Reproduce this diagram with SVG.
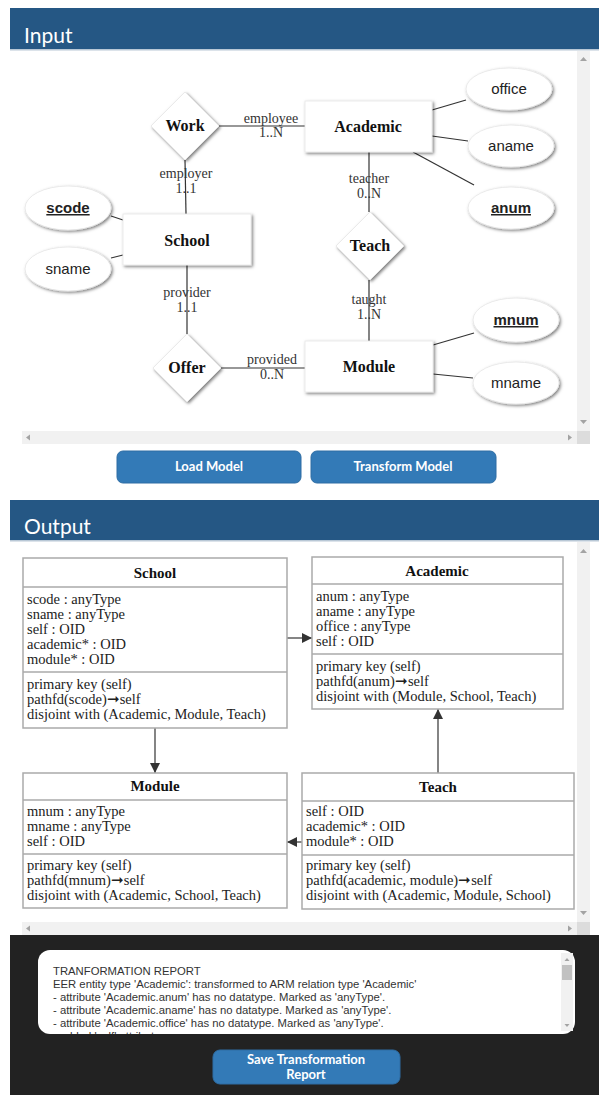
<svg xmlns="http://www.w3.org/2000/svg" width="599" height="1095" viewBox="0 0 599 1095">
<defs>
<filter id="sh" x="-30%" y="-30%" width="160%" height="160%">
<feDropShadow dx="1.5" dy="1.5" stdDeviation="1.8" flood-color="#000" flood-opacity="0.5"/>
</filter>
<marker id="ah" viewBox="0 0 10 10" refX="10" refY="5" markerWidth="10" markerHeight="10" markerUnits="userSpaceOnUse" orient="auto">
<path d="M0,0 L10,5 L0,10 z" fill="#333"/>
</marker>
<clipPath id="taclip"><rect x="38" y="950" width="537" height="84" rx="12"/></clipPath>
</defs>
<style>
.hdr{fill:#255784}
.htxt{font-family:"Lato",sans-serif;font-size:21px;fill:#fff}
.ent{fill:#fff;stroke:#e6e6e6;stroke-width:0.8;filter:url(#sh)}
.el{fill:#fff;stroke:#e6e6e6;stroke-width:0.8;filter:url(#sh)}
.elab{font-family:"Liberation Serif",serif;font-size:16px;font-weight:bold;fill:#111;text-anchor:middle}
.alab{font-family:"Liberation Sans",sans-serif;font-size:15px;fill:#222;text-anchor:middle}
.key{font-weight:bold;text-decoration:underline}
.er{stroke:#333;stroke-width:1.2;fill:none}
.rl{font-family:"Liberation Serif",serif;font-size:14px;fill:#333;text-anchor:middle}
.sb{fill:#f1f1f1}
.sbc{fill:#dcdcdc}
.arr{fill:#a3a3a3}
.btn{fill:#337ab7;stroke:#2e6da4;stroke-width:1}
.btxt{font-family:"Lato",sans-serif;font-size:13px;font-weight:bold;fill:#fff;text-anchor:middle}
.box{fill:#fff;stroke:#aaa;stroke-width:1.5}
.sep{stroke:#aaa;stroke-width:1.5}
.ut{font-family:"Liberation Serif",serif;font-size:14.5px;fill:#222}
.utt{font-family:"Liberation Serif",serif;font-size:15px;font-weight:bold;fill:#111;text-anchor:middle}
.con{stroke:#333;stroke-width:1.2;fill:none;marker-end:url(#ah)}
.rep{font-family:"Liberation Sans",sans-serif;font-size:11.3px;fill:#333}
</style>
<rect width="599" height="1095" fill="#fff"/>

<!-- Input header -->
<g id="input-header">
<rect class="hdr" x="10" y="8" width="589" height="42"/>
<rect x="10" y="49" width="589" height="1.5" fill="#b9c8d6"/>
<text class="htxt" x="24" y="43">Input</text>
</g>

<!-- Input scrollbars -->
<g id="input-scroll">
<rect class="sb" x="577" y="51" width="13" height="380"/>
<rect class="sb" x="22" y="431" width="555" height="13"/>
<rect class="sbc" x="577" y="431" width="13" height="13"/>
<path class="arr" d="M580,61 L583.5,57 L587,61 z"/>
<path class="arr" d="M580,420 L583.5,424 L587,420 z"/>
<path class="arr" d="M30,434.5 L26,437.5 L30,440.5 z"/>
<path class="arr" d="M568,434.5 L572,437.5 L568,440.5 z"/>
</g>

<!-- ER connectors -->
<g id="er-connectors">
<line class="er" x1="219" y1="126" x2="305" y2="126"/>
<line class="er" x1="185" y1="160" x2="186" y2="214"/>
<line class="er" x1="369" y1="152" x2="369" y2="212"/>
<line class="er" x1="369" y1="280" x2="369" y2="341"/>
<line class="er" x1="187" y1="265" x2="187" y2="334"/>
<line class="er" x1="221" y1="368" x2="305" y2="368"/>
<line class="er" x1="432" y1="110" x2="466" y2="100"/>
<line class="er" x1="432" y1="136" x2="468" y2="141"/>
<line class="er" x1="413" y1="152" x2="474" y2="185"/>
<line class="er" x1="111" y1="216" x2="123" y2="220"/>
<line class="er" x1="111" y1="258" x2="123" y2="255"/>
<line class="er" x1="433" y1="345" x2="474" y2="333"/>
<line class="er" x1="433" y1="374" x2="473" y2="378"/>
<text class="rl" x="271" y="123">employee</text>
<text class="rl" x="271" y="137">1..N</text>
<text class="rl" x="186" y="178">employer</text>
<text class="rl" x="186" y="193">1..1</text>
<text class="rl" x="369" y="183">teacher</text>
<text class="rl" x="369" y="198">0..N</text>
<text class="rl" x="369" y="304">taught</text>
<text class="rl" x="369" y="319">1..N</text>
<text class="rl" x="187" y="297">provider</text>
<text class="rl" x="187" y="312">1..1</text>
<text class="rl" x="272" y="364">provided</text>
<text class="rl" x="272" y="379">0..N</text>
</g>

<!-- ER nodes -->
<g id="er-work"><path class="ent" d="M185,92 L219,126 L185,160 L151,126 z"/><text class="elab" x="185" y="131">Work</text></g>
<g id="er-academic"><rect class="ent" x="305" y="101" width="127" height="51"/><text class="elab" x="368" y="132">Academic</text></g>
<g id="er-school"><rect class="ent" x="123" y="214" width="128" height="51"/><text class="elab" x="187" y="246">School</text></g>
<g id="er-teach"><path class="ent" d="M370,212 L404,246 L370,280 L336,246 z"/><text class="elab" x="370" y="251">Teach</text></g>
<g id="er-offer"><path class="ent" d="M187,334 L221,368 L187,402 L153,368 z"/><text class="elab" x="187" y="373">Offer</text></g>
<g id="er-module"><rect class="ent" x="305" y="341" width="128" height="51"/><text class="elab" x="369" y="372">Module</text></g>
<g id="er-office"><ellipse class="el" cx="509" cy="89" rx="43" ry="21"/><text class="alab" x="509" y="94">office</text></g>
<g id="er-aname"><ellipse class="el" cx="511" cy="146" rx="43" ry="21"/><text class="alab" x="511" y="151">aname</text></g>
<g id="er-anum"><ellipse class="el" cx="511" cy="208" rx="43" ry="21"/><text class="alab key" x="511" y="213">anum</text></g>
<g id="er-scode"><ellipse class="el" cx="68" cy="208" rx="43" ry="22"/><text class="alab key" x="68" y="213">scode</text></g>
<g id="er-sname"><ellipse class="el" cx="68" cy="269" rx="43" ry="22"/><text class="alab" x="68" y="274">sname</text></g>
<g id="er-mnum"><ellipse class="el" cx="516" cy="320" rx="43" ry="22"/><text class="alab key" x="516" y="325">mnum</text></g>
<g id="er-mname"><ellipse class="el" cx="516" cy="383" rx="43" ry="21"/><text class="alab" x="516" y="388">mname</text></g>

<!-- Buttons -->
<g id="btn-load"><rect class="btn" x="117" y="451" width="184" height="32" rx="6"/><text class="btxt" x="209" y="471">Load Model</text></g>
<g id="btn-transform"><rect class="btn" x="311" y="451" width="185" height="32" rx="6"/><text class="btxt" x="403" y="471">Transform Model</text></g>

<!-- Output header -->
<g id="output-header">
<rect class="hdr" x="10" y="500" width="589" height="41"/>
<rect x="10" y="540" width="589" height="1.5" fill="#b9c8d6"/>
<text class="htxt" x="24" y="534">Output</text>
</g>

<!-- Output scrollbars -->
<g id="output-scroll">
<rect class="sb" x="577" y="542" width="13" height="380"/>
<rect class="sb" x="22" y="922" width="555" height="13"/>
<rect class="sbc" x="577" y="922" width="13" height="13"/>
<path class="arr" d="M580,553 L583.5,549 L587,553 z"/>
<path class="arr" d="M580,911 L583.5,915 L587,911 z"/>
<path class="arr" d="M30,925.5 L26,928.5 L30,931.5 z"/>
<path class="arr" d="M568,925.5 L572,928.5 L568,931.5 z"/>
</g>

<!-- UML connectors -->
<g id="uml-connectors">
<line class="con" x1="287" y1="638" x2="312" y2="638"/>
<line class="con" x1="155" y1="728" x2="155" y2="773"/>
<line class="con" x1="438" y1="773" x2="438" y2="709"/>
<line class="con" x1="302" y1="842" x2="287" y2="842"/>
</g>

<!-- UML nodes -->
<g id="uml-school">
<rect class="box" x="23" y="558" width="264" height="170"/>
<line class="sep" x1="23" y1="587" x2="287" y2="587"/>
<line class="sep" x1="23" y1="672" x2="287" y2="672"/>
<text class="utt" x="155" y="578">School</text>
<text class="ut" x="27" y="604">scode : anyType</text>
<text class="ut" x="27" y="619">sname : anyType</text>
<text class="ut" x="27" y="634">self : OID</text>
<text class="ut" x="27" y="649">academic* : OID</text>
<text class="ut" x="27" y="664">module* : OID</text>
<text class="ut" x="27" y="689">primary key (self)</text>
<text class="ut" x="27" y="704">pathfd(scode)➞self</text>
<text class="ut" x="27" y="719">disjoint with (Academic, Module, Teach)</text>
</g>
<g id="uml-academic">
<rect class="box" x="312" y="557" width="251" height="152"/>
<line class="sep" x1="312" y1="584" x2="563" y2="584"/>
<line class="sep" x1="312" y1="654" x2="563" y2="654"/>
<text class="utt" x="437" y="576">Academic</text>
<text class="ut" x="316" y="601">anum : anyType</text>
<text class="ut" x="316" y="616">aname : anyType</text>
<text class="ut" x="316" y="631">office : anyType</text>
<text class="ut" x="316" y="646">self : OID</text>
<text class="ut" x="316" y="671">primary key (self)</text>
<text class="ut" x="316" y="686">pathfd(anum)➞self</text>
<text class="ut" x="316" y="701">disjoint with (Module, School, Teach)</text>
</g>
<g id="uml-module">
<rect class="box" x="23" y="773" width="264" height="135"/>
<line class="sep" x1="23" y1="800" x2="287" y2="800"/>
<line class="sep" x1="23" y1="854" x2="287" y2="854"/>
<text class="utt" x="155" y="791">Module</text>
<text class="ut" x="27" y="816">mnum : anyType</text>
<text class="ut" x="27" y="831">mname : anyType</text>
<text class="ut" x="27" y="846">self : OID</text>
<text class="ut" x="27" y="870">primary key (self)</text>
<text class="ut" x="27" y="885">pathfd(mnum)➞self</text>
<text class="ut" x="27" y="900">disjoint with (Academic, School, Teach)</text>
</g>
<g id="uml-teach">
<rect class="box" x="302" y="773" width="272" height="136"/>
<line class="sep" x1="302" y1="801" x2="574" y2="801"/>
<line class="sep" x1="302" y1="855" x2="574" y2="855"/>
<text class="utt" x="438" y="792">Teach</text>
<text class="ut" x="306" y="816">self : OID</text>
<text class="ut" x="306" y="831">academic* : OID</text>
<text class="ut" x="306" y="846">module* : OID</text>
<text class="ut" x="306" y="870">primary key (self)</text>
<text class="ut" x="306" y="885">pathfd(academic, module)➞self</text>
<text class="ut" x="306" y="900">disjoint with (Academic, Module, School)</text>
</g>

<!-- Report panel -->
<g id="report-panel">
<rect x="10" y="935" width="589" height="160" fill="#222"/>
<rect x="38" y="950" width="537" height="84" rx="12" fill="#fff"/>
<g clip-path="url(#taclip)">
<text class="rep" x="53" y="975">TRANFORMATION REPORT</text>
<text class="rep" x="53" y="988">EER entity type 'Academic': transformed to ARM relation type 'Academic'</text>
<text class="rep" x="53" y="1001">- attribute 'Academic.anum' has no datatype. Marked as 'anyType'.</text>
<text class="rep" x="53" y="1014">- attribute 'Academic.aname' has no datatype. Marked as 'anyType'.</text>
<text class="rep" x="53" y="1027">- attribute 'Academic.office' has no datatype. Marked as 'anyType'.</text>
<text class="rep" x="53" y="1040">- added 'self' attribute</text>
</g>
<rect x="561" y="953" width="12" height="78" fill="#f1f1f1"/>
<rect x="562" y="965" width="10" height="15" fill="#c1c1c1"/>
<path class="arr" d="M564.5,961 L567,958 L569.5,961 z"/>
<path class="arr" d="M564.5,1024 L567,1027 L569.5,1024 z"/>
</g>
<g id="btn-save">
<rect class="btn" x="213" y="1050" width="187" height="34" rx="7"/>
<text class="btxt" x="306" y="1064">Save Transformation</text>
<text class="btxt" x="306" y="1079">Report</text>
</g>
</svg>
